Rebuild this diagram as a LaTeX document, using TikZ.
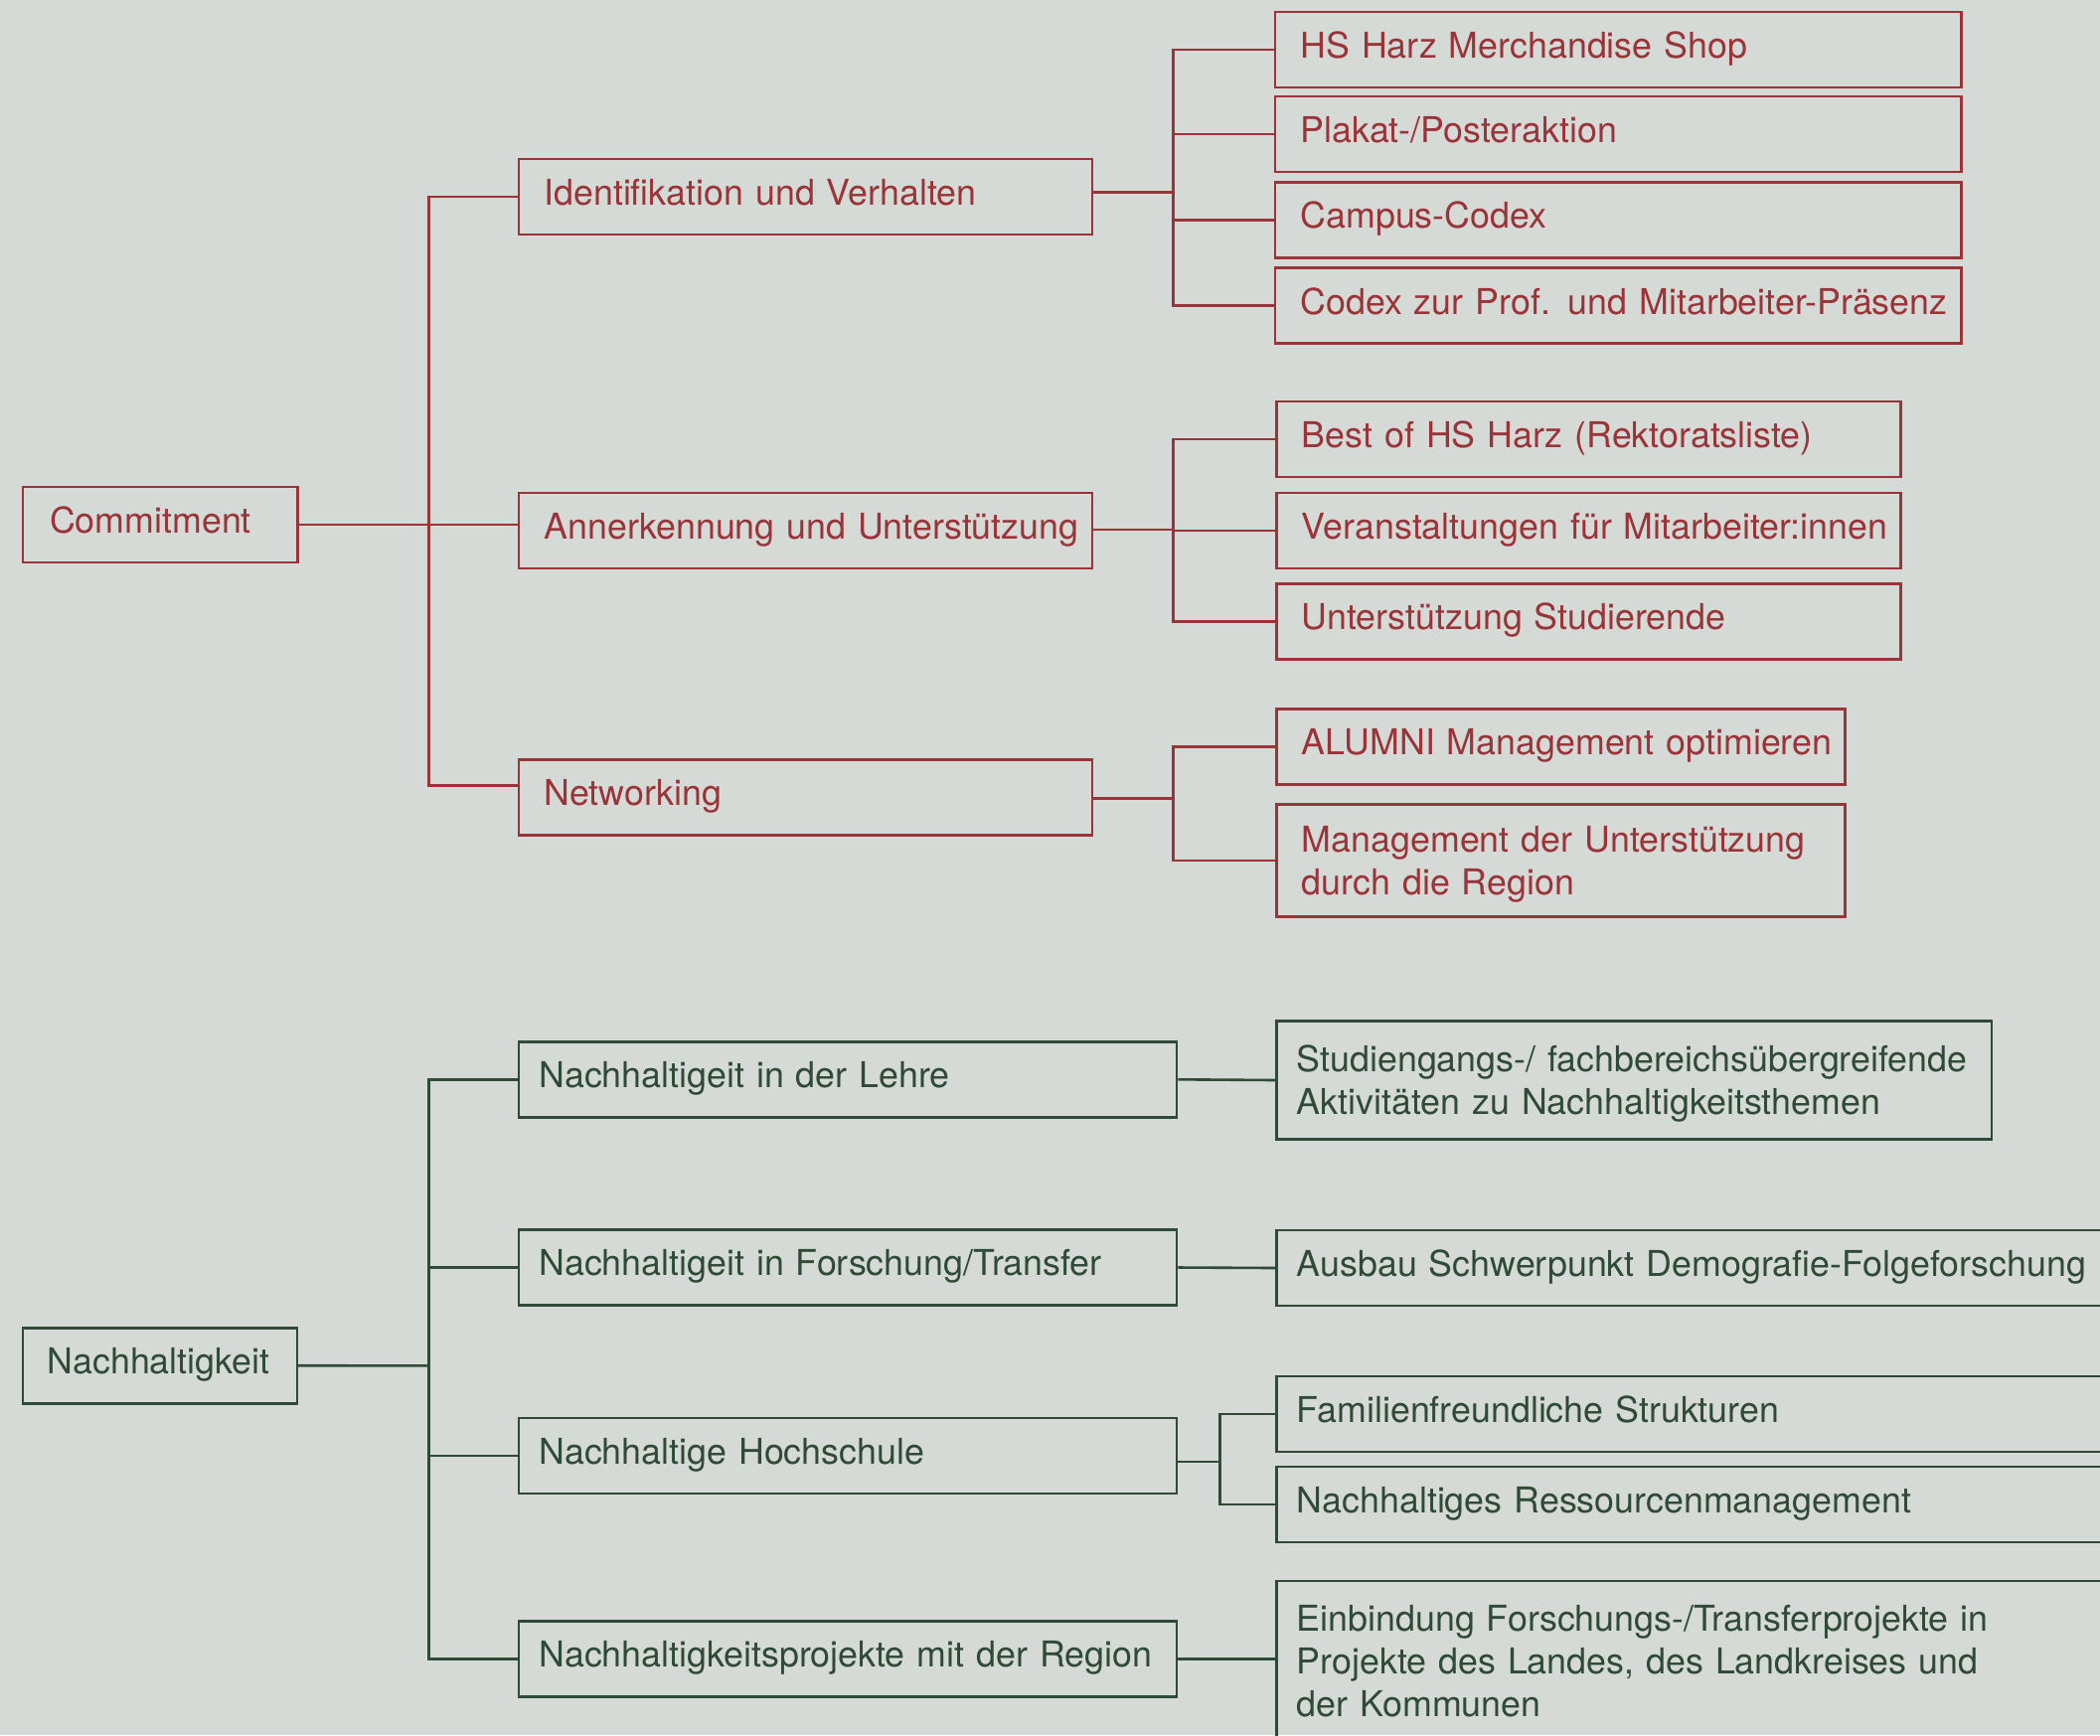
\documentclass[tikz,border=0pt]{standalone}
\usepackage{fontspec}
\setmainfont{TeX Gyre Heros}
\usetikzlibrary{backgrounds}
\usetikzlibrary{calc,positioning}
\definecolor{hsred}{HTML}{9A3439}
\definecolor{hsgreen}{HTML}{2F4A37}
\definecolor{hsbg}{HTML}{D5DAD6}
\newcommand\boxfont{\fontsize{17.9pt}{21.4pt}\selectfont}

\begin{document}
\begin{tikzpicture}[
    x=0.5pt, y=-0.5pt,
    show background rectangle,
    tight background,
    background rectangle/.style={fill=hsbg},
    box/.style={draw, line width=1.3pt, font=\boxfont, align=left,
        anchor=west, inner ysep=0pt, minimum height=38pt},
    rbox/.style={box, draw=hsred, text=hsred, inner xsep=12.8pt, text width=#1},
    gbox/.style={box, draw=hsgreen, text=hsgreen, inner xsep=10.3pt, text width=#1},
    oneline/.style={text height=.95em, text depth=.12em,
        execute at begin node=\hbox\bgroup, execute at end node=\egroup},
    twolines/.style={execute at begin node=\rule{0pt}{.95em}},
    rline/.style={draw=hsred, line width=1.3pt},
    gline/.style={draw=hsgreen, line width=1.3pt},
 ]
    \useasboundingbox (0,0) rectangle (2113,1746);

    % Commitment
    \node[rbox=111.2pt, oneline, inner xsep=13.5pt] (R0) at (21.7,528) {Commitment};
    \node[rbox=263pt, oneline] (R1) at (520.5,198) {Identifikation und Verhalten};
    \node[rbox=263pt, oneline] (R2) at (520.5,534) {Annerkennung und Unterstützung};
    \node[rbox=263pt, oneline] (R3) at (520.5,802.5) {Networking};

    \node[rbox=319.6pt, oneline] (R11) at (1281.5,49.8) {HS Harz Merchandise Shop};
    \node[rbox=319.6pt, oneline] (R12) at (1281.5,135) {Plakat-/Posteraktion};
    \node[rbox=319.6pt, oneline] (R13) at (1281.5,221.2) {Campus-Codex};
    \node[rbox=319.6pt, oneline] (R14) at (1281.5,307.7) {Codex zur Prof. und Mitarbeiter-Präsenz};

    \node[rbox=288.4pt, oneline] (R21) at (1283,442) {Best of HS Harz (Rektoratsliste)};
    \node[rbox=288.4pt, oneline] (R22) at (1283,534) {Veranstaltungen für Mitarbeiter:innen};
    \node[rbox=288.4pt, oneline] (R23) at (1283,625.4) {Unterstützung Studierende};

    \node[rbox=260.4pt, oneline] (R31) at (1283,751.3) {ALUMNI Management optimieren};
    \node[rbox=260.4pt, twolines, minimum height=56.7pt] (R32) at (1283,866)
        {Management der Unterstützung\\durch die Region};

    \coordinate (RT) at (431.4,528);
    \draw[rline] (R0.east) -- (RT);
    \draw[rline] (RT) |- (R1.west);
    \draw[rline] (RT) -- (RT -| R2.west);
    \draw[rline] (RT) |- ([yshift=5.9pt]R3.west);

    \coordinate (RB1) at (1180.5,193.3);
    \draw[rline] (RB1 -| R1.east) -- (RB1);
    \foreach \n in {11,...,14} \draw[rline] (RB1) |- (R\n.west);
    \coordinate (RB2) at (1180.5,533);
    \draw[rline] (RB2 -| R2.east) -- (RB2);
    \foreach \n in {21,22,23} \draw[rline] (RB2) |- (R\n.west);
    \coordinate (RB3) at (1180.5,803.7);
    \draw[rline] (RB3 -| R3.east) -- (RB3);
    \foreach \n in {31,32} \draw[rline] (RB3) |- (R\n.west);

    % Nachhaltigkeit
    \node[gbox=113.3pt, oneline, inner xsep=12.3pt] (G0) at (21.7,1374.2) {Nachhaltigkeit};
    \node[gbox=310.5pt, oneline] (G1) at (520.5,1086.3) {Nachhaltigeit in der Lehre};
    \node[gbox=310.5pt, oneline] (G2) at (520.5,1275.5) {Nachhaltigeit in Forschung/Transfer};
    \node[gbox=310.5pt, oneline] (G3) at (520.5,1464.8) {Nachhaltige Hochschule};
    \node[gbox=310.5pt, oneline] (G4) at (520.5,1669.4) {Nachhaltigkeitsprojekte mit der Region};

    \node[gbox=339.2pt, twolines, minimum height=59.5pt] (G11) at (1283,1087)
        {Studiengangs-/ fachbereichsübergreifende\\Aktivitäten zu Nachhaltigkeitsthemen};
    \node[gbox=417.9pt, oneline] (G21) at (1283,1276) {Ausbau Schwerpunkt Demografie-Folgeforschung};
    \node[gbox=417.9pt, oneline] (G31) at (1283,1422.9) {Familienfreundliche Strukturen};
    \node[gbox=417.9pt, oneline] (G32) at (1283,1513.8) {Nachhaltiges Ressourcenmanagement};
    \node[gbox=417.9pt, minimum height=80.6pt] (G41) at (1283,1671.6)
        {Einbindung Forschungs-/Transferprojekte in\\Projekte des Landes, des Landkreises und\\der Kommunen};

    \coordinate (GT) at (431.4,1374.4);
    \draw[gline] (G0.east) -- (GT);
    \foreach \n in {1,...,4} \draw[gline] (GT) |- (G\n.west);
    \draw[gline] (G1.east) -- (G11.west);
    \draw[gline] (G2.east) -- (G21.west);
    \coordinate (GB3) at (1227.3,1471);
    \draw[gline] (GB3 -| G3.east) -- (GB3);
    \foreach \n in {31,32} \draw[gline] (GB3) |- (G\n.west);
    \draw[gline] (G4.east) -- (G4.east -| G41.west);
\end{tikzpicture}
\end{document}
